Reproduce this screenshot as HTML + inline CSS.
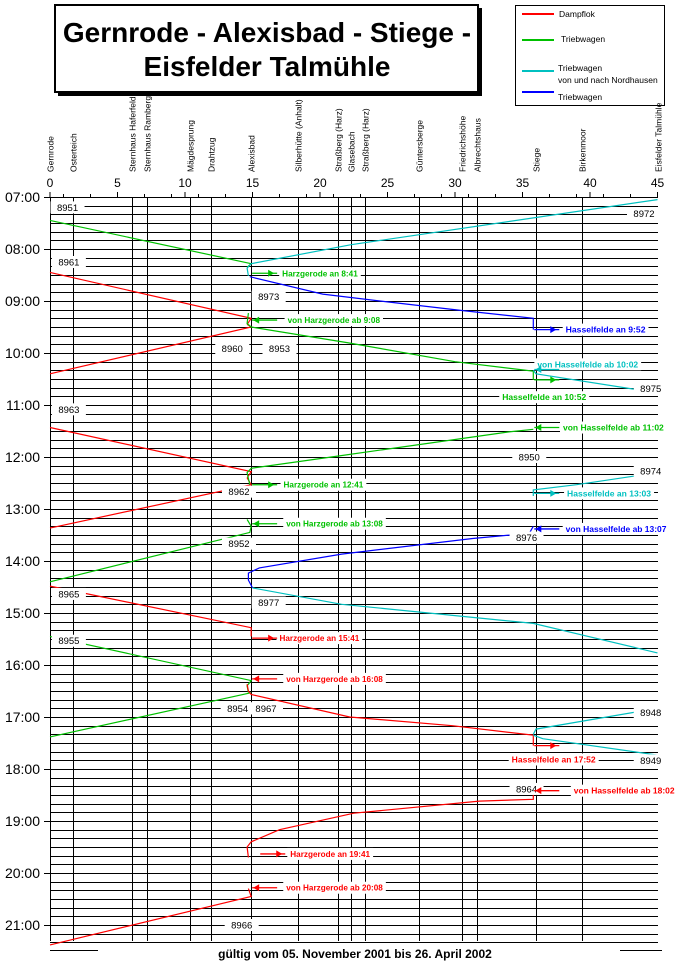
<!DOCTYPE html>
<html><head><meta charset="utf-8"><style>
html,body{margin:0;padding:0;background:#fff;}
svg{display:block;font-family:"Liberation Sans",Arial,sans-serif;}
</style></head><body>
<svg id="chart" width="679" height="970" viewBox="0 0 679 970" xmlns="http://www.w3.org/2000/svg">
<rect x="0" y="0" width="679" height="970" fill="#fff"/>
<g>
<rect x="58" y="8" width="424" height="88" fill="#000"/>
<rect x="55" y="5" width="423" height="87" fill="#fff" stroke="#000" stroke-width="2"/>
<text x="267" y="42" font-size="28" font-weight="bold" text-anchor="middle">Gernrode - Alexisbad - Stiege -</text>
<text x="267" y="76" font-size="28" font-weight="bold" text-anchor="middle">Eisfelder Talmühle</text>
</g>
<g font-size="8.5">
<rect x="515.5" y="5.5" width="149" height="100" fill="#fff" stroke="#000" stroke-width="1"/>
<line x1="522" y1="14" x2="554" y2="14" stroke="#ff0000" stroke-width="2"/><text x="559" y="17">Dampflok</text>
<line x1="522" y1="40" x2="554" y2="40" stroke="#00c000" stroke-width="2"/><text x="561" y="42">Triebwagen</text>
<line x1="522" y1="71" x2="554" y2="71" stroke="#00c0c0" stroke-width="2"/><text x="558" y="71">Triebwagen</text><text x="558" y="83">von und nach Nordhausen</text>
<line x1="522" y1="92" x2="554" y2="92" stroke="#0000ff" stroke-width="2"/><text x="558" y="100">Triebwagen</text>
</g>
<g id="grid"></g>
<g id="stations"></g>
<g id="trains"></g>
<g id="labels"></g>
<text x="355" y="958" font-size="12" font-weight="bold" text-anchor="middle">gültig vom 05. November 2001 bis 26. April 2002</text>
<line x1="50" y1="950.5" x2="98" y2="950.5" stroke="#000"/><line x1="620" y1="950.5" x2="662" y2="950.5" stroke="#000"/>
</svg>
<script>
const stationNames=["Gernrode","Osterteich","Sternhaus Haferfeld","Sternhaus Ramberg","Mägdesprung","Drahtzug","Alexisbad","Silberhütte (Anhalt)","Straßberg (Harz)","Glasebach","Straßberg (Harz)","Güntersberge","Friedrichshöhe","Albrechtshaus","Stiege","Birkenmoor","Eisfelder Talmühle"];
const stationKm=[0,1.7,6.1,7.2,10.4,11.9,14.9,18.4,21.3,22.3,23.3,27.3,30.5,31.6,36.0,39.4,45];
const stationLine=[true,true,true,true,true,true,true,true,true,true,true,true,true,true,true,true,false];
const kmTicks=[0,5,10,15,20,25,30,35,40,45];
const hourLabels=["07:00","08:00","09:00","10:00","11:00","12:00","13:00","14:00","15:00","16:00","17:00","18:00","19:00","20:00","21:00"];
const trainNames=["8951","8972","8973","8961","8960","8953","8975","8963","8962","8950","8974","8952","8976","8977","8965","8955","8954","8967","8948","8949","8964","8966"];
const trainColors=["g","c","b","r","r","g","c","r","r","g","c","g","b","c","r","g","g","r","c","c","r","r"];
const trainPaths=[
[[0,"07:27"],[14.9,"08:17"],[14.6,"08:21"]],
[[45,"07:03"],[22.3,"07:55"],[14.9,"08:17"],[14.6,"08:22"],[14.7,"08:31"]],
[[14.8,"08:32"],[20.2,"08:52"],[25,"09:01"],[30.5,"09:11"],[35.8,"09:20"],[35.8,"09:33"]],
[[0,"08:27"],[14.9,"09:20"],[14.6,"09:27"]],
[[14.6,"09:27"],[14.9,"09:30"],[0,"10:24"]],
[[14.7,"09:14"],[14.6,"09:26"],[14.9,"09:30"],[22,"09:48"],[30,"10:10"],[35.8,"10:21"],[35.8,"10:31"]],
[[35.8,"10:20"],[36,"10:24"],[45,"10:46"]],
[[0,"11:26"],[14.9,"12:17"],[14.6,"12:24"]],
[[14.6,"12:24"],[14.9,"12:32"],[0,"13:22"]],
[[35.8,"11:28"],[34,"11:31"],[21.3,"11:59"],[14.9,"12:13"],[14.6,"12:18"],[14.8,"12:32"]],
[[45,"12:18"],[39,"12:32"],[35.8,"12:38"],[35.8,"12:45"]],
[[14.6,"13:12"],[14.9,"13:20"],[14.8,"13:27"],[0,"14:24"]],
[[35.8,"13:20"],[35.5,"13:28"],[31.3,"13:34"],[21.6,"13:52"],[15.5,"14:08"],[14.7,"14:14"],[14.7,"14:22"],[15,"14:31"]],
[[15,"14:31"],[21.6,"14:50"],[35.8,"15:12"],[45,"15:46"]],
[[0,"14:29"],[14.9,"15:17"],[14.9,"15:27"]],
[[0,"15:27"],[14.9,"16:18"],[14.6,"16:24"],[14.7,"16:32"]],
[[14.9,"16:32"],[0,"17:23"]],
[[14.6,"16:22"],[14.7,"16:30"],[14.9,"16:34"],[22.2,"17:00"],[29.8,"17:10"],[35.8,"17:21"],[35.8,"17:33"]],
[[35.8,"17:20"],[36,"17:14"],[45,"16:50"]],
[[35.8,"17:21"],[36.5,"17:25"],[45,"17:44"]],
[[35.8,"18:28"],[35.8,"18:35"],[31.8,"18:37"],[22.5,"18:51"],[17,"19:10"],[14.9,"19:24"],[14.6,"19:30"],[14.7,"19:42"]],
[[14.7,"20:18"],[14.9,"20:27"],[0,"21:23"]]
];
const trainLabelKm=[1.3,44,16.2,1.4,13.5,17,44.5,1.4,14,35.5,44.5,14,35.3,16.2,1.4,1.4,13.9,16,44.5,44.5,35.3,14.2];
const trainLabelTime=["07:12","07:19","08:55","08:15","09:55","09:55","10:41","11:05","12:40","12:00","12:16","13:40","13:33","14:48","14:38","15:32","16:50","16:50","16:55","17:50","18:23","21:00"];
const noteTexts=["Harzgerode an 8:41","von Harzgerode ab 9:08","Hasselfelde an 9:52","von Hasselfelde ab 10:02","Hasselfelde an 10:52","von Hasselfelde ab 11:02","Harzgerode an 12:41","Hasselfelde an 13:03","von Harzgerode ab 13:08","von Hasselfelde ab 13:07","Harzgerode an 15:41","von Harzgerode ab 16:08","Hasselfelde an 17:52","von Hasselfelde ab 18:02","Harzgerode an 19:41","von Harzgerode ab 20:08"];
const noteColors=["g","g","b","c","g","g","g","c","g","b","r","r","r","r","r","r"];
const noteStation=[14.9,14.9,35.8,35.8,35.8,35.8,14.9,35.8,14.9,35.8,14.9,14.9,35.8,35.8,15.5,14.9];
const noteDir=[1,-1,1,-1,1,-1,1,1,-1,-1,1,-1,1,-1,1,-1];
const noteTime=["08:28","09:22","09:33","10:19","10:31","11:26","12:32","12:42","13:17","13:23","15:29","16:16","17:33","18:25","19:38","20:17"];
const noteTextKm=[17.2,17.6,38.2,36.1,33.5,38,17.3,38.3,17.5,38.2,17,17.5,34.2,38.8,17.8,17.5];
const noteTextTime=["08:28","09:22","09:33","10:13","10:51","11:26","12:32","12:42","13:17","13:23","15:29","16:16","17:49","18:25","19:38","20:17"];

const COL={r:"#ff0000",g:"#00c000",c:"#00c0c0",b:"#0000ff"};
const NS="http://www.w3.org/2000/svg";
function X(km){return 50+km*13.5;}
function Y(t){const p=t.split(":");return 197+((+p[0])*60+(+p[1])-420)*52/60;}
function mk(tag,attrs,parent){const e=document.createElementNS(NS,tag);for(const k in attrs)e.setAttribute(k,attrs[k]);parent.appendChild(e);return e;}
const grid=document.getElementById('grid'),st=document.getElementById('stations'),tr=document.getElementById('trains'),lb=document.getElementById('labels');
for(let m=420;m<=1280;m+=10){
  const y=Math.round(197+(m-420)*52/60)+0.5;
  const l=mk('line',{x1:m%60===0?44:50,y1:y,x2:658,y2:y,stroke:'#000','stroke-width':1},grid);
  
  
}
hourLabels.forEach(h=>{
  const t=mk('text',{x:40,y:Y(h)+5,'font-size':14,'text-anchor':'end'},grid);
  t.textContent=h;
  
  
});
kmTicks.forEach(k=>{
  const t=mk('text',{x:X(k),y:187,'font-size':12,'text-anchor':'middle'},st);
  t.textContent=k;
  
  
  mk('line',{x1:X(k),y1:192,x2:X(k),y2:197,stroke:'#000'},st);
});
for(let k=1;k<45;k+=2){mk('line',{x1:X(k),y1:194,x2:X(k),y2:197,stroke:'#000'},st);}
stationNames.forEach((n,i)=>{
  const x=Math.round(X(stationKm[i]))+0.5;
  if(stationLine[i]){
    const l=mk('line',{x1:x,y1:197,x2:x,y2:941,stroke:'#000','stroke-width':1},st);
    
    
  }
  const t=mk('text',{x:0,y:0,'font-size':8.5,transform:`translate(${x+3},172) rotate(-90)`},st);
  t.textContent=n;
  
  
});
trainPaths.forEach((p,i)=>{
  const pts=p.map(q=>X(q[0]).toFixed(1)+','+Y(q[1]).toFixed(1)).join(' ');
  const pl=mk('polyline',{points:pts,fill:'none',stroke:COL[trainColors[i]],'stroke-width':1.2},tr);
  
  
});
trainNames.forEach((n,i)=>{
  const x=X(trainLabelKm[i]),y=Y(trainLabelTime[i]);
  mk('rect',{x:x-17,y:y-6,width:34,height:12,fill:'#fff'},lb);
  const t=mk('text',{x:x,y:y+3.5,'font-size':9.5,'text-anchor':'middle'},lb);
  t.textContent=n;
  
  
});
noteTexts.forEach((s,i)=>{
  const c=COL[noteColors[i]];
  const y=Y(noteTime[i]);
  const x0=X(noteStation[i])+1, x1=x0+25;
  const tx=X(noteTextKm[i]), ty=Y(noteTextTime[i]);
  const w=s.length*4.2+6;
  mk('rect',{x:tx-3,y:ty-6,width:w,height:12,fill:'#fff'},lb);
  const t=mk('text',{x:tx,y:ty+3,'font-size':8,'font-weight':'bold',fill:c,textLength:w-6,lengthAdjust:'spacingAndGlyphs'},lb);
  t.textContent=s;
  
  
  mk('line',{x1:x0,y1:y,x2:x1,y2:y,stroke:c,'stroke-width':1.3},lb);
  const hx=noteDir[i]>0?x1-4:x0+1;
  const tri=noteDir[i]>0?`${hx-5},${y-3.5} ${hx+1},${y} ${hx-5},${y+3.5}`:`${hx+6},${y-3.5} ${hx},${y} ${hx+6},${y+3.5}`;
  const a=mk('polygon',{points:tri,fill:c},lb);
  
  
});
</script>
</body></html>
